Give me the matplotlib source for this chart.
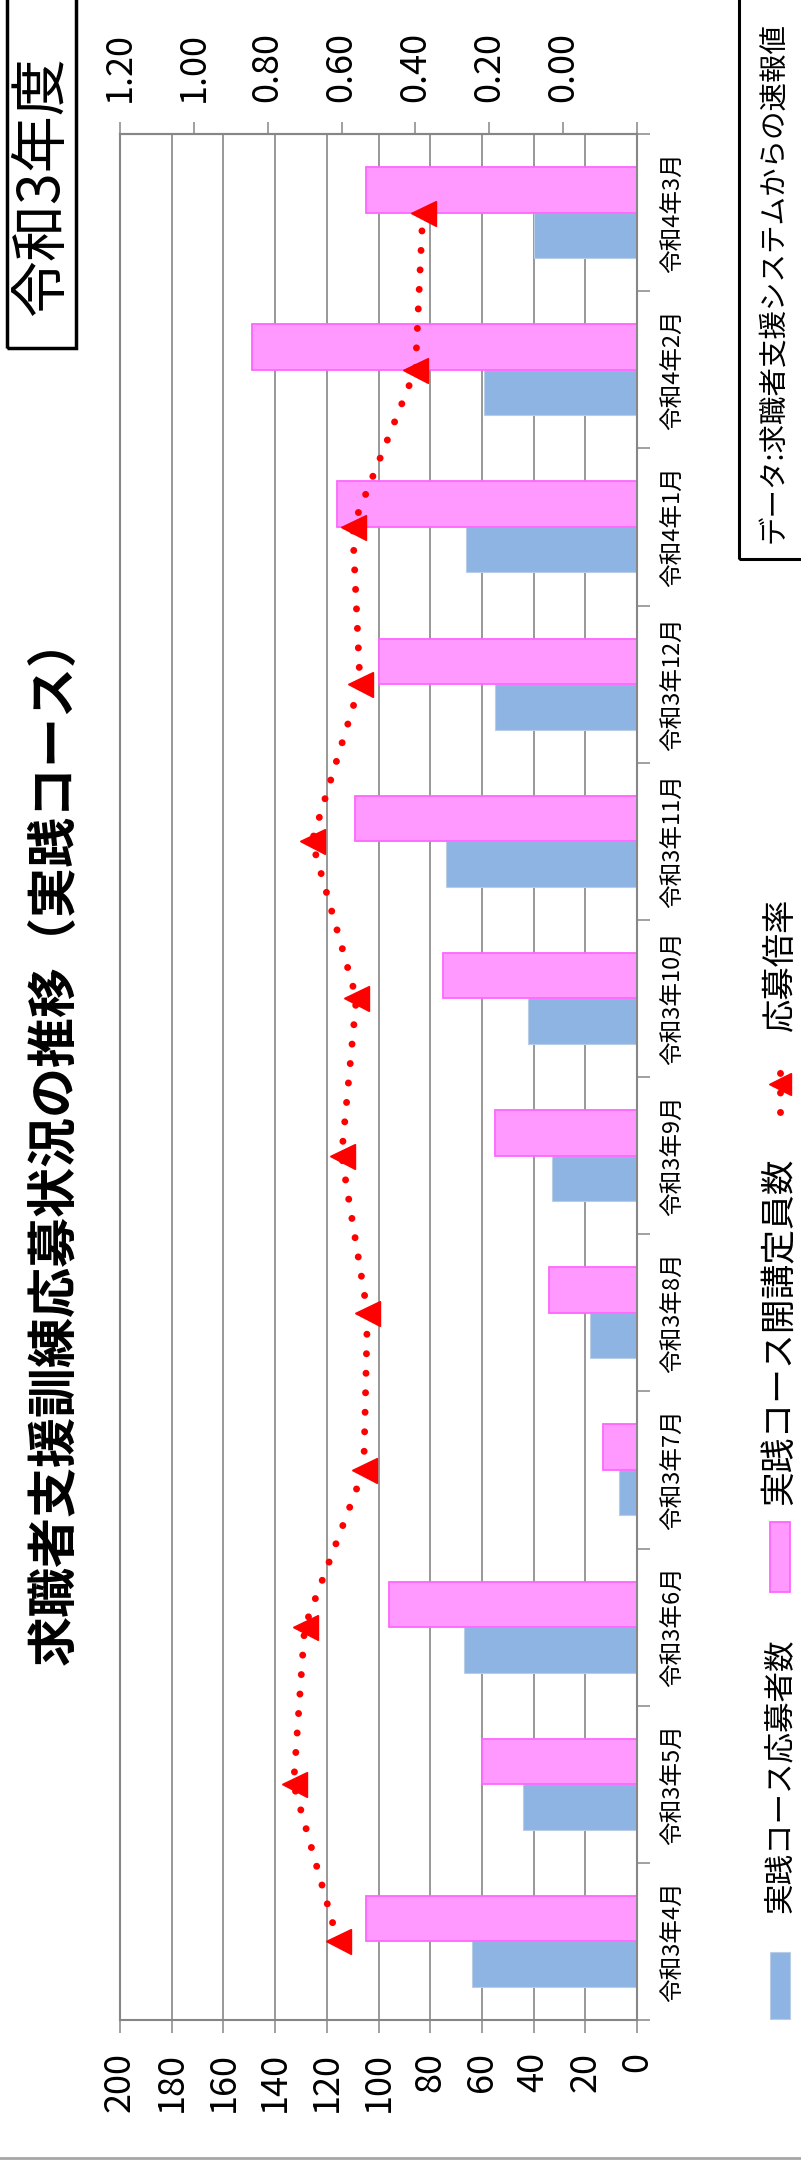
import matplotlib.pyplot as plt
from matplotlib.patches import Rectangle
from matplotlib.lines import Line2D
import numpy as np

plt.rcParams['font.family'] = ['Noto Sans CJK JP', 'DejaVu Sans']

# 求職者支援訓練 実践コース 令和3年度
months = ['令和3年4月', '令和3年5月', '令和3年6月', '令和3年7月', '令和3年8月', '令和3年9月',
          '令和3年10月', '令和3年11月', '令和3年12月', '令和4年1月', '令和4年2月', '令和4年3月']
applicants = [64, 44, 67, 7, 18, 33, 42, 74, 55, 66, 59, 40]        # 実践コース応募者数
capacity = [105, 60, 96, 13, 34, 55, 75, 109, 100, 116, 149, 105]   # 実践コース開講定員数
ratio = [0.61, 0.73, 0.70, 0.54, 0.53, 0.60, 0.56, 0.68, 0.55, 0.57, 0.40, 0.38]  # 応募倍率

ratio_ticks = [-0.2, 0.0, 0.2, 0.4, 0.6, 0.8, 1.0, 1.2]
ratio_labels = ['', '0.00', '0.20', '0.40', '0.60', '0.80', '1.00', '1.20']

gray = '#868686'
W, H = 801, 2167

fig = plt.figure(figsize=(W / 100, H / 100), dpi=100)
ax = fig.add_axes([120 / W, 1 - 2020 / H, 517 / W, 1886 / H])

y = np.arange(len(months))
w = 0.29
ax.barh(y - w / 2, applicants, height=w, color='#8EB4E3', edgecolor='#B9CDE5', linewidth=0.8, zorder=2)
ax.barh(y + w / 2, capacity, height=w, color='#FF99FF', edgecolor='#FF66FF', linewidth=1.3, zorder=2)
ax.set_xlim(200, 0)
ax.set_ylim(-0.5, len(months) - 0.5)

ax.set_xticks(range(0, 201, 20))
ax.tick_params(axis='x', direction='out', length=9, width=1.1, color=gray, pad=14,
               labelsize=26, labelrotation=90)
ax.xaxis.grid(True, color=gray, lw=1.2)
ax.set_axisbelow(True)

ax.yaxis.tick_right()
ax.set_yticks(np.arange(-0.5, len(months), 1))
ax.set_yticklabels([])
ax.set_yticks(y, minor=True)
ax.set_yticklabels(months, minor=True, fontsize=17)
for lab in ax.get_yticklabels(minor=True):
    lab.set_rotation(90)
    lab.set_va('center')
ax.tick_params(axis='y', which='major', direction='out', length=9, width=1.1, color=gray)
ax.tick_params(axis='y', which='minor', length=0, pad=18)
for s in ax.spines.values():
    s.set_color(gray)
    s.set_linewidth(1.5)

# 応募倍率 (第2軸)
ax2 = ax.twiny()
ax2.plot(ratio, y, color='#FF0000', lw=5, linestyle=(0, (0.01, 2.8)), dash_capstyle='round',
         marker='<', ms=18, mfc='#FF0000', mec='#FF0000', zorder=3)
ax2.set_xlim(1.2, -0.2)
ax2.set_xticks(ratio_ticks)
ax2.set_xticklabels(ratio_labels)
ax2.tick_params(axis='x', direction='out', length=9, width=1.1, color=gray, pad=14,
                labelsize=26, labelrotation=90)
for s in ax2.spines.values():
    s.set_visible(False)
ax2.spines['top'].set_visible(True)
ax2.spines['top'].set_color(gray)
ax2.spines['top'].set_linewidth(1.5)

# タイトル
fig.text(55 / W, 1 - 1140 / H, '求職者支援訓練応募状況の推移（実践コース）', rotation=90,
         ha='center', va='center', fontsize=36, fontweight='bold')

# 令和3年度
fig.add_artist(Rectangle((7 / W, 1 - 348 / H), 69 / W, 0.3, transform=fig.transFigure,
                         fill=False, ec='black', lw=2.5, clip_on=False))
fig.text(42 / W, 1 - 186 / H, '令和3年度', rotation=90, ha='center', va='center', fontsize=41)

# データ出典
fig.add_artist(Rectangle((739 / W, 1 - 559 / H), 0.2, 0.3, transform=fig.transFigure,
                         fill=False, ec='black', lw=2.2, clip_on=False))
fig.text(773 / W, 1 - 543 / H, 'データ:求職者支援システムからの速報値', rotation=90,
         ha='center', va='bottom', fontsize=20.5)

# 凡例
fig.add_artist(Rectangle((770 / W, 1 - 2019 / H), 20 / W, 67 / H, transform=fig.transFigure,
                         fc='#8EB4E3', ec='#B9CDE5', lw=0.8))
fig.text(780 / W, 1 - 1913 / H, '実践コース応募者数', rotation=90, ha='center', va='bottom', fontsize=22)
fig.add_artist(Rectangle((770 / W, 1 - 1592 / H), 20 / W, 70 / H, transform=fig.transFigure,
                         fc='#FF99FF', ec='#FF66FF', lw=1.3))
fig.text(780 / W, 1 - 1505 / H, '実践コース開講定員数', rotation=90, ha='center', va='bottom', fontsize=25)
fig.add_artist(Line2D([780 / W] * 3, [1 - 1112 / H, 1 - 1084 / H, 1 - 1054 / H],
                      transform=fig.transFigure, color='#FF0000', lw=5,
                      linestyle=(0, (0.01, 2.8)), dash_capstyle='round',
                      marker='<', ms=16, markevery=[1], mfc='#FF0000', mec='#FF0000'))
fig.text(780 / W, 1 - 1031 / H, '応募倍率', rotation=90, ha='center', va='bottom', fontsize=24)

fig.add_artist(Line2D([0, 1], [1 - 2158 / H] * 2, transform=fig.transFigure, color='#A6A6A6', lw=2))

fig.savefig('out.png', dpi=100)
